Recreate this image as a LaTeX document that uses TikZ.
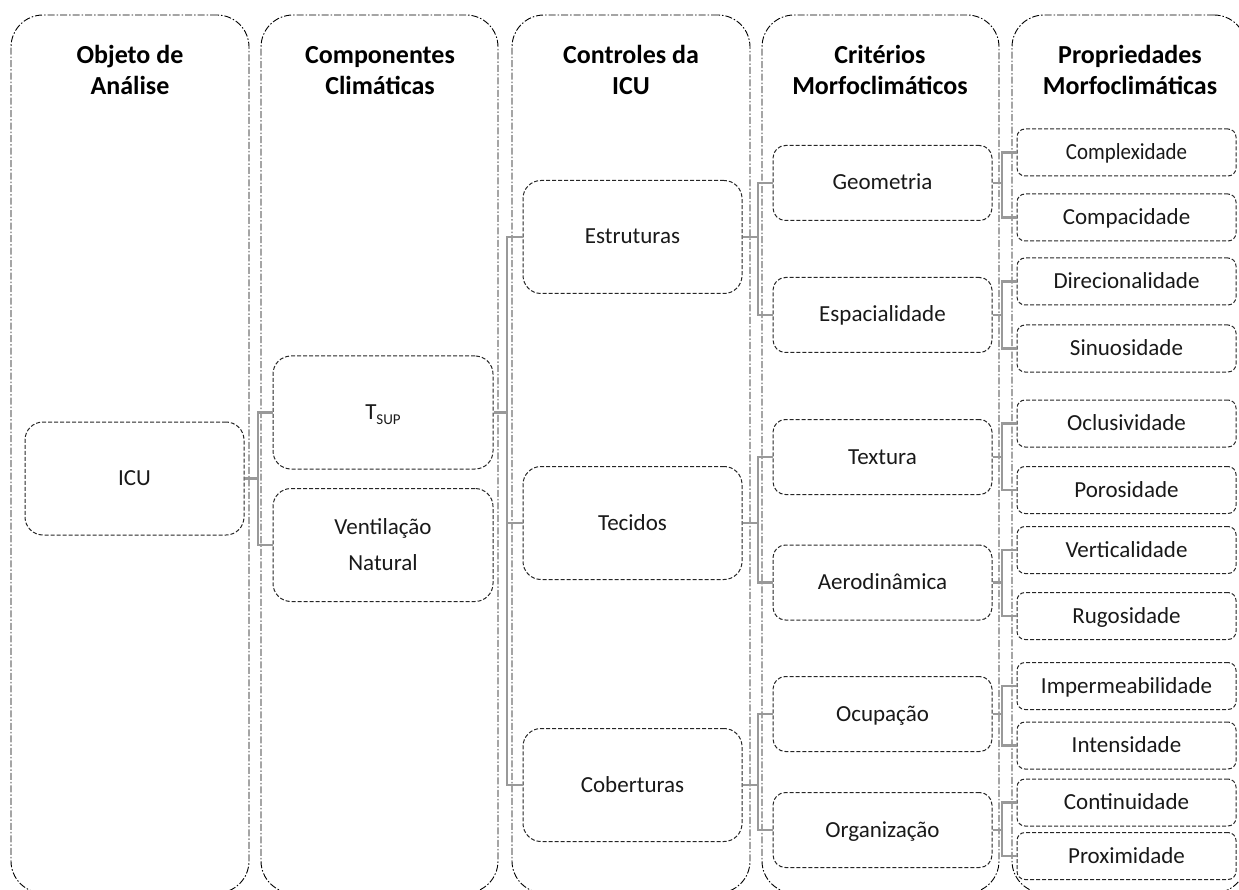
\documentclass[tikz,border=0pt]{standalone}
\usepackage{fontspec}
\setmainfont{Carlito}
\usepackage{graphicx}
\begin{document}
\begin{tikzpicture}[x=1pt,y=-1pt,
  col/.style={draw=black, line width=0.9pt, dash pattern=on 7pt off 2pt on 1.5pt off 2pt,
    rounded corners=32pt, minimum height=878pt, inner sep=0pt},
  hdr/.style={anchor=base, inner sep=0pt, font=\fontsize{26}{31}\selectfont\bfseries},
  box/.style={draw=black!85, line width=1pt, dash pattern=on 4pt off 2pt, minimum width=219pt,
    inner sep=0pt, text=black!90, font=\fontsize{23}{36}\selectfont},
  one/.style={text height=15pt, text depth=1pt},
  big/.style={box, minimum height=113pt, rounded corners=18pt},
  mid/.style={box, one, minimum height=75pt, rounded corners=12.5pt},
  small/.style={box, one, minimum height=47pt, rounded corners=8pt},
  conn/.style={draw=black!40, line width=2.6pt}]
\path[use as bounding box, clip] (0,0) rectangle (1239,890);
% columns
\node[col, minimum width=238pt] (c1) at (130,454) {};
\node[col, minimum width=237pt] (c2) at (379.5,454) {};
\node[col, minimum width=238pt] (c3) at (631,454) {};
\node[col, minimum width=237pt] (c4) at (880.5,454) {};
\node[col, minimum width=234pt] (c5) at (1129,454) {};
% headers
\node[hdr] (h1) at (130,64) {\begin{tabular}[t]{@{}c@{}}Objeto de\\Análise\end{tabular}};
\node[hdr] (h2) at (380,64) {\begin{tabular}[t]{@{}c@{}}Componentes\\Climáticas\end{tabular}};
\node[hdr] (h3) at (631,64) {\begin{tabular}[t]{@{}c@{}}Controles da\\ICU\end{tabular}};
\node[hdr] (h4) at (880,64) {\begin{tabular}[t]{@{}c@{}}Critérios\\Morfoclimáticos\end{tabular}};
\node[hdr] (h5) at (1130,64) {\begin{tabular}[t]{@{}c@{}}Propriedades\\Morfoclimáticas\end{tabular}};
% column 1
\node[big, one, minimum width=219pt] (icu) at (134.5,478.5) {ICU};
% column 2
\node[big, one, minimum width=220pt] (tsup) at (383,412.5) {T\raisebox{-4.5pt}{\fontsize{15}{15}\selectfont SUP}};
\node[big, minimum width=220pt, align=center] (vent) at (383,545) {Ventilação\\Natural};
% column 3
\node[big, one] (estr) at (632.5,237) {Estruturas};
\node[big, one] (tec) at (632.5,523) {Tecidos};
\node[big, one] (cob) at (632.5,785) {Coberturas};
% column 4
\node[mid] (geo) at (882.5,183) {Geometria};
\node[mid] (esp) at (882.5,315) {Espacialidade};
\node[mid] (tex) at (882.5,457) {Textura};
\node[mid] (aer) at (882.5,582.5) {Aerodinâmica};
\node[mid] (ocu) at (882.5,714) {Ocupação};
\node[mid] (org) at (882.5,830) {Organização};
% column 5
\node[small] (cpx) at (1126.5,152.5) {\scalebox{0.91}[1]{Complexidade}\hspace{46pt}};
\node[small] (cpc) at (1126.5,217.5) {Compacidade};
\node[small] (dir) at (1126.5,281.5) {Direcionalidade};
\node[small] (sin) at (1126.5,348.5) {Sinuosidade};
\node[small] (ocl) at (1126.5,423.5) {Oclusividade};
\node[small] (por) at (1126.5,490) {Porosidade};
\node[small] (ver) at (1126.5,550) {Verticalidade};
\node[small] (rug) at (1126.5,616) {Rugosidade};
\node[small] (imp) at (1126.5,686) {Impermeabilidade};
\node[small] (int) at (1126.5,745.5) {Intensidade};
\node[small] (con) at (1126.5,802.5) {Continuidade};
\node[small] (pro) at (1126.5,856) {Proximidade};
% bus coordinates
\coordinate (b1) at (258,0);
\coordinate (b2) at (507,0);
\coordinate (b3) at (758,0);
\coordinate (b4) at (1002,0);
% connectors col1 -> col2
\draw[conn] (icu.east) -- (b1 |- icu.east);
\draw[conn] (tsup.west) -- (b1 |- tsup.west) -- (b1 |- vent.west) -- (vent.west);
% col2 -> col3
\draw[conn] (tsup.east) -- (b2 |- tsup.east);
\draw[conn] (estr.west) -- (b2 |- estr.west) -- (b2 |- cob.west) -- (cob.west);
\draw[conn] (tec.west) -- (b2 |- tec.west);
% col3 -> col4
\draw[conn] (estr.east) -- (b3 |- estr.east);
\draw[conn] (geo.west) -- (b3 |- geo.west) -- (b3 |- esp.west) -- (esp.west);
\draw[conn] (tec.east) -- (b3 |- tec.east);
\draw[conn] (tex.west) -- (b3 |- tex.west) -- (b3 |- aer.west) -- (aer.west);
\draw[conn] (cob.east) -- (b3 |- cob.east);
\draw[conn] (ocu.west) -- (b3 |- ocu.west) -- (b3 |- org.west) -- (org.west);
% col4 -> col5
\draw[conn] (geo.east) -- (b4 |- geo.east);
\draw[conn] (cpx.west) -- (b4 |- cpx.west) -- (b4 |- cpc.west) -- (cpc.west);
\draw[conn] (esp.east) -- (b4 |- esp.east);
\draw[conn] (dir.west) -- (b4 |- dir.west) -- (b4 |- sin.west) -- (sin.west);
\draw[conn] (tex.east) -- (b4 |- tex.east);
\draw[conn] (ocl.west) -- (b4 |- ocl.west) -- (b4 |- por.west) -- (por.west);
\draw[conn] (aer.east) -- (b4 |- aer.east);
\draw[conn] (ver.west) -- (b4 |- ver.west) -- (b4 |- rug.west) -- (rug.west);
\draw[conn] (ocu.east) -- (b4 |- ocu.east);
\draw[conn] (imp.west) -- (b4 |- imp.west) -- (b4 |- int.west) -- (int.west);
\draw[conn] (org.east) -- (b4 |- org.east);
\draw[conn] (con.west) -- (b4 |- con.west) -- (b4 |- pro.west) -- (pro.west);
\end{tikzpicture}
\end{document}
